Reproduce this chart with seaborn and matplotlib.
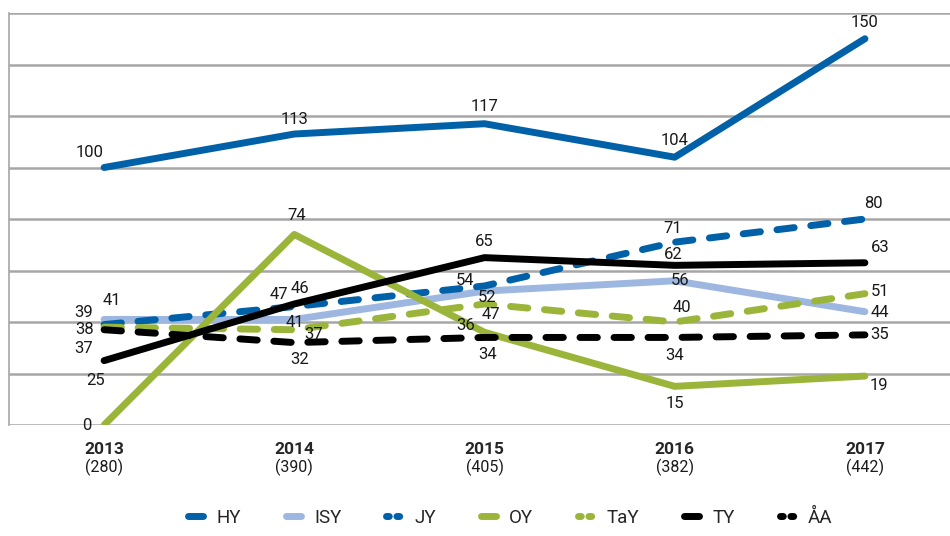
import pandas as pd
import matplotlib
matplotlib.use('Agg')
import matplotlib.pyplot as plt
import seaborn as sns

# chart data
years = ['2013', '2014', '2015', '2016', '2017']
counts = ['(280)', '(390)', '(405)', '(382)', '(442)']
hy = [100, 113, 117, 104, 150]
isy = [41, 41, 52, 56, 44]
jy = [39, 46, 54, 71, 80]
oy = [0, 74, 36, 15, 19]
tay = [38, 37, 47, 40, 51]
ty = [25, 47, 65, 62, 63]
aa = [37, 32, 34, 34, 35]

series_names = ['HY', 'ISY', 'JY', 'OY', 'TaY', 'TY', 'ÅA']
series_values = [hy, isy, jy, oy, tay, ty, aa]

# styles
dark_blue = '#0061A8'
light_blue = '#9DB7E0'
green = '#9BB53B'
dash = (0, (2.5, 2.4))
styles = {
    'HY': (dark_blue, '-'),
    'ISY': (light_blue, '-'),
    'JY': (dark_blue, dash),
    'OY': (green, '-'),
    'TaY': (green, dash),
    'TY': ('black', '-'),
    'ÅA': ('black', dash),
}

# data label offsets in pixels (dx right, dy down)
label_offsets = {
    'HY': [(-14, -15), (0, -15), (0, -17), (0, -17), (0, -16)],
    'ISY': [(8, -19), (1, 3), (3, 6), (5, 0), (15, 1)],
    'JY': [(-20, -12), (6, -18), (-19, -5), (-2, -14), (9, -16)],
    'OY': [(-17, 0), (2, -19), (-19, -7), (0, 17), (14, 9)],
    'TaY': [(-20, 2), (19, 5), (6, 11), (7, -14), (15, -2)],
    'TY': [(-9, 20), (-15, -9), (0, -16), (-1, -11), (15, -15)],
    'ÅA': [(-20, 19), (5, 17), (3, 17), (0, 18), (15, 0)],
}

sns.set_style('white')
plt.rcParams['font.family'] = ['Roboto', 'DejaVu Sans']

df = pd.DataFrame({'year': years * len(series_names),
                   'value': [v for vals in series_values for v in vals],
                   'series': [n for n in series_names for _ in years]})

fig = plt.figure(figsize=(9.5, 5.36), dpi=100)
ax = fig.add_axes([9 / 950, 111 / 536, 951 / 950, 412 / 536])

for name in series_names:
    color, ls = styles[name]
    sub = df[df['series'] == name]
    sns.lineplot(data=sub, x='year', y='value', ax=ax, color=color,
                 linestyle=ls, linewidth=5, solid_capstyle='round',
                 dash_capstyle='round', label=name, sort=False)

for name in series_names:
    sub = df[df['series'] == name].reset_index(drop=True)
    for i, row in sub.iterrows():
        dx, dy = label_offsets[name][i]
        ax.annotate(str(row['value']), xy=(i, row['value']),
                    xytext=(dx, -dy), textcoords='offset pixels',
                    ha='center', va='center', fontsize=12, color='#1a1a1a')

ax.set_xlim(-0.5, 4.5)
ax.set_ylim(0, 160)
ax.set_yticks(range(0, 161, 20))
ax.set_yticklabels([])
ax.tick_params(axis='both', length=0)
ax.set_xticks(range(len(years)))
ax.set_xticklabels(years, fontweight='bold', fontsize=12.5)
ax.tick_params(axis='x', pad=12)
ax.set_xlabel('')
ax.set_ylabel('')
ax.grid(axis='y', color='#A6A6A6', linewidth=1.8)
ax.set_axisbelow(True)
for side in ['top', 'right', 'bottom']:
    ax.spines[side].set_visible(False)
ax.spines['left'].set_color('#A6A6A6')
ax.spines['left'].set_linewidth(1.2)

for i, c in enumerate(counts):
    ax.text(i, -0.102, c, transform=ax.get_xaxis_transform(),
            ha='center', va='center', fontsize=11.5, color='#1a1a1a')

leg = ax.legend(loc='center', bbox_to_anchor=(0.537, 18 / 536),
                bbox_transform=fig.transFigure, ncol=7, frameon=False,
                handlelength=0.8, columnspacing=2.4, handletextpad=0.7,
                fontsize=13.5)
for line in leg.get_lines():
    if line.get_linestyle() != '-':
        line.set_dashes((0.4, 1.1))

fig.savefig('out.png', dpi=100)
